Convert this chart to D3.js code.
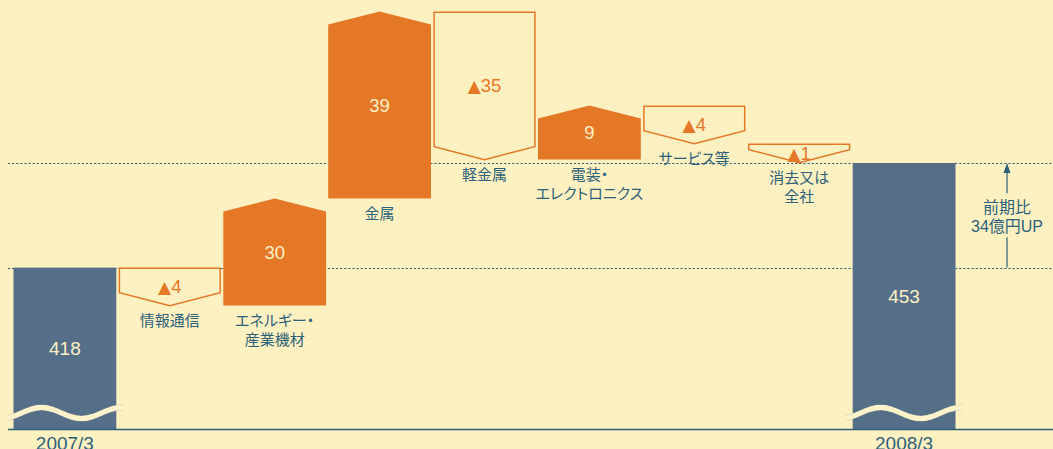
<!DOCTYPE html>
<html>
<head>
<meta charset="utf-8">
<script src="https://cdn.jsdelivr.net/npm/d3@7"></script>
<style>
  html, body { margin: 0; padding: 0; background: #fdf1c1; }
  svg { display: block; }
  text { font-family: "Liberation Sans", "Noto Sans CJK JP", sans-serif; font-feature-settings: "palt"; }
</style>
</head>
<body>
<svg id="chart" width="1053" height="449"></svg>
<script>
// Net sales by segment (億円): opening total, segment changes, closing total
const startLabel = "2007/3";
const endLabel = "2008/3";
const startTotal = 418;
const endTotal = 453;
const segmentNames = [
  ["情報通信"],
  ["エネルギー・", "産業機材"],
  ["金属"],
  ["軽金属"],
  ["電装・", "エレクトロニクス"],
  ["サービス等"],
  ["消去又は", "全社"]
];
const segmentChanges = [-4, 30, 39, -35, 9, -4, -1];
const noteLines = ["前期比", "34億円UP"];

const W = 1053, H = 449;
const C = {
  bg: "#fdf1c1",
  total: "#566f89",
  up: "#e57827",
  ink: "#2c6179",
  light: "#fdf0c6"
};

const svg = d3.select("#chart");
const columns = [startLabel, ...segmentNames.map((d, i) => "s" + i), endLabel];

const x = d3.scaleBand().domain(columns).range([13.5, 955.5]).paddingInner(0.02).paddingOuter(0);

// Totals sit on a broken axis; the floor of the axis is the baseline
const baseY = 429;
const yTotal = d3.scaleLinear().domain([364, 453]).range([baseY, 163]);

// Segment steps use a compressed, schematic length scale
const stepLen = d3.scaleLinear()
  .domain([0, 1, 4, 9, 30, 35, 39])
  .range([0, 19, 38, 54, 107, 148, 187]);

const chevron = 13;
const jpFont = "'Noto Sans CJK JP', sans-serif";

// Guide lines at the two totals
[startTotal, endTotal].forEach(v => {
  svg.append("line")
    .attr("x1", 8).attr("x2", W)
    .attr("y1", Math.round(yTotal(v)) + 0.5).attr("y2", Math.round(yTotal(v)) + 0.5)
    .attr("stroke", C.ink).attr("stroke-width", 1)
    .attr("stroke-dasharray", "2.2,1.9");
});

// Total bars with wave breaks
function totalBar(key, value) {
  const x0 = x(key), bw = x.bandwidth();
  svg.append("rect")
    .attr("x", x0).attr("y", yTotal(value))
    .attr("width", bw).attr("height", baseY - yTotal(value))
    .attr("fill", C.total);

  const cy = baseY - 16;
  const pts = d3.range(x0 - 7, x0 + bw + 8, 1);
  const wave = xx => cy - 5.5 * Math.sin(2 * Math.PI * (xx - x0 - 8) / 80);
  const band = d3.area().x(d => d).y0(d => wave(d) + 2.6).y1(d => wave(d) - 2.6);
  svg.append("path").attr("d", band(pts)).attr("fill", "#fdf3cb");
  [-2.6, 2.6].forEach(off => {
    svg.append("path")
      .attr("d", d3.line().x(d => d).y(d => wave(d) + off)(pts))
      .attr("fill", "none").attr("stroke", "#b9b9a5").attr("stroke-width", 0.6)
      .attr("stroke-opacity", 0.7);
  });
  // stripe fill again over the part inside the bar
  svg.append("path").attr("d", band(pts.filter(p => p >= x0 && p <= x0 + bw))).attr("fill", "#fdf3cb");

  svg.append("text")
    .attr("x", x0 + bw / 2).attr("y", (yTotal(value) + baseY) / 2 + 7)
    .attr("text-anchor", "middle").attr("font-size", 19)
    .attr("fill", C.light).text(value);

  svg.append("text")
    .attr("x", x0 + bw / 2).attr("y", 450)
    .attr("text-anchor", "middle").attr("font-size", 19)
    .attr("fill", C.ink).text(key);
}

totalBar(startLabel, startTotal);
totalBar(endLabel, endTotal);

// Segment steps
let level = yTotal(startTotal);
segmentChanges.forEach((v, i) => {
  const key = "s" + i;
  const x0 = x(key), x1 = x0 + x.bandwidth(), xc = (x0 + x1) / 2;
  const len = stepLen(Math.abs(v));
  const yStart = level;
  const yEnd = v >= 0 ? level - len : level + len;
  level = yEnd;
  let bottom;
  if (v >= 0) {
    const pts = [[x0, yStart], [x0, yEnd + chevron], [xc, yEnd], [x1, yEnd + chevron], [x1, yStart]];
    svg.append("path").attr("d", "M" + pts.join("L") + "Z").attr("fill", C.up);
    bottom = yStart;
  } else {
    const a = x0 + 1, b = x1 - 1;
    const pts = [[a, yStart + 0.75], [b, yStart + 0.75], [b, yEnd - chevron], [xc, yEnd], [a, yEnd - chevron]];
    svg.append("path").attr("d", "M" + pts.join("L") + "Z")
      .attr("fill", C.bg).attr("stroke", C.up).attr("stroke-width", 1.5)
      .attr("stroke-linejoin", "miter");
    bottom = yEnd;
  }

  const midY = (yStart + yEnd) / 2 + 6.5;
  const t = svg.append("text")
    .attr("x", xc).attr("y", midY)
    .attr("text-anchor", "middle").attr("font-size", 18.5);
  if (v >= 0) {
    t.attr("fill", C.light).text(v);
  } else {
    t.attr("fill", C.up);
    t.append("tspan").attr("font-family", "DejaVu Sans").attr("font-size", 17).text("▲");
    t.append("tspan").text(Math.abs(v));
  }

  const lab = svg.append("text")
    .attr("text-anchor", "middle").attr("font-size", 15).attr("fill", C.ink)
    .attr("font-family", jpFont);
  segmentNames[i].forEach((line, j) => {
    lab.append("tspan").attr("x", xc).attr("y", bottom + 20 + j * 19.5).text(line);
  });
});

// Year-on-year change note
const ax = 1007;
const yTop = yTotal(endTotal), yBot = yTotal(startTotal);
const mid = (yTop + yBot) / 2;
svg.append("path")
  .attr("d", `M${ax - 3.5},${yTop + 10}L${ax},${yTop}L${ax + 3.5},${yTop + 10}Z`)
  .attr("fill", C.ink);
svg.append("line").attr("x1", ax).attr("x2", ax).attr("y1", yTop + 8).attr("y2", mid - 22)
  .attr("stroke", C.ink).attr("stroke-width", 1.2);
svg.append("line").attr("x1", ax).attr("x2", ax).attr("y1", mid + 22).attr("y2", yBot)
  .attr("stroke", C.ink).attr("stroke-width", 1.2);
const note = svg.append("text").attr("text-anchor", "middle").attr("font-size", 16).attr("fill", C.ink);
noteLines.forEach((line, j) => {
  note.append("tspan").attr("x", ax).attr("y", mid - 2 + j * 19).text(line);
});

// Baseline
svg.append("line")
  .attr("x1", 8).attr("x2", W)
  .attr("y1", baseY + 0.5).attr("y2", baseY + 0.5)
  .attr("stroke", C.ink).attr("stroke-width", 1.4);
</script>
</body>
</html>
